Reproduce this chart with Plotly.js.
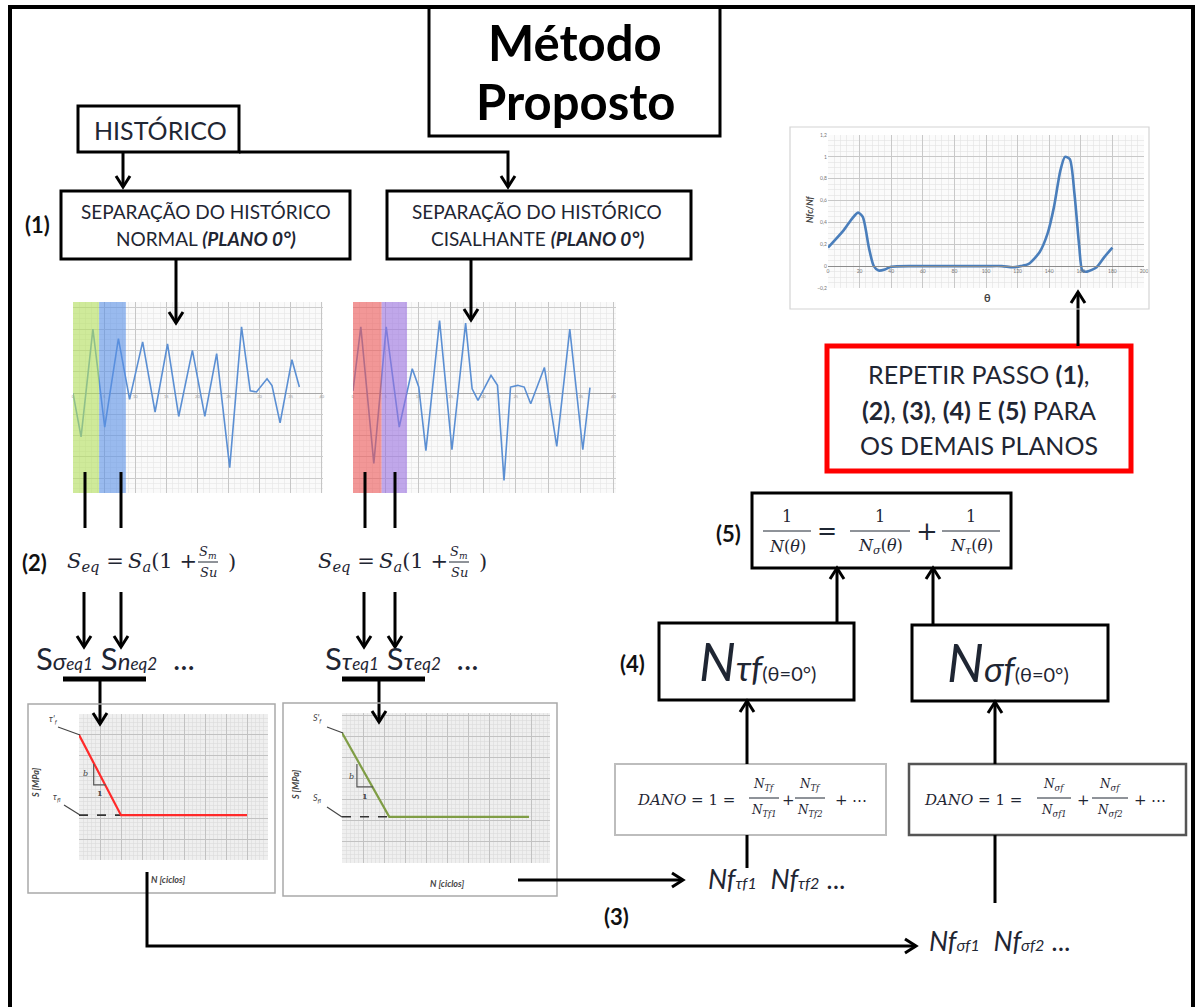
<!DOCTYPE html>
<html>
<head>
<meta charset="utf-8">
<script src="https://cdn.plot.ly/plotly-3.0.1.min.js"></script>
<style>
  html, body { margin: 0; padding: 0; background: #fff; }
  #chart { width: 1197px; height: 1007px; }
</style>
</head>
<body>
<div id="chart"></div>
<script>
// ---- Normal stress history, plane 0° ----
const normalTime   = [0, 1.3, 3.2, 5.1, 7.3, 9.1, 11.2, 13.2, 15.2, 17.0, 19.2, 21.2, 23.1, 25.2, 27.1, 28.5, 29.5, 31.2, 32.0, 33.3, 35.2, 36.4];
const normalStress = [0, -2.06, 3.0, -1.6, 2.55, -0.3, 2.4, -0.9, 2.3, -1.1, 2.0, -1.1, 1.85, -3.5, 3.1, 0.1, 0.05, 0.67, 0.35, -1.4, 1.56, 0.28];
const normalBands  = [[0, 4.2], [4.2, 8.5]];

// ---- Shear stress history, plane 0° ----
const shearTime   = [0, 1.2, 3.2, 5.1, 7.1, 9.1, 10.1, 11.2, 13.3, 15.2, 17.3, 18.3, 19.2, 21.2, 22.2, 23.2, 24.2, 25.3, 26.3, 27.3, 29.4, 31.3, 33.3, 35.3, 36.4];
const shearStress = [0.1, 3.1, -3.3, 3.1, -1.6, 1.14, 0.28, -2.7, 3.4, -2.66, 3.28, 0.2, -0.34, 0.83, 0.36, -4.1, 0.28, 0.36, 0.28, -0.5, 1.2, -2.5, 3.0, -2.66, 0.25];
const shearBands  = [[0, 4.4], [4.4, 8.3]];

// ---- Damage ratio versus plane angle ----
const planeAngle  = [0, 10, 15, 19, 22, 26, 29, 32, 36, 40, 60, 80, 100, 110, 117, 122, 127, 134, 139, 143, 147, 150, 153, 156, 159, 161, 164, 170, 175, 180];
const damageRatio = [0.17, 0.33, 0.43, 0.49, 0.45, 0.16, 0.0, -0.04, -0.03, -0.005, 0, 0, 0, 0, -0.01, 0, 0.02, 0.13, 0.3, 0.54, 0.87, 1.0, 0.98, 0.66, 0.18, -0.04, -0.05, -0.01, 0.085, 0.17];

// ---- S-N curve (shear) ----
const snTauCycles      = [0, 2, 8];
const snTauStress      = [6.0, 2.15, 2.15];
const snTauLimitCycles = [0, 2];
const snTauLimitStress = [2.15, 2.15];
const snTauSlopeCycles = [0.7, 0.7, 1.28];
const snTauSlopeStress = [4.6, 3.6, 3.6];

// ---- S-N curve (normal) ----
const snSigCycles      = [0, 2.25, 8.9];
const snSigStress      = [6.2, 2.2, 2.2];
const snSigLimitCycles = [0, 2.25];
const snSigLimitStress = [2.2, 2.2];
const snSigSlopeCycles = [0.71, 0.71, 1.48];
const snSigSlopeStress = [4.71, 3.62, 3.62];

const W = 1197, H = 1007;
const INK = '#1f2633';
const SANS = 'Lato, "Open Sans", sans-serif';
const SERIF = '"DejaVu Serif", "Liberation Serif", serif';

// pixel box -> paper domain
const dx = (a, b) => [a / W, b / W];
const dy = (top, bot) => [1 - bot / H, 1 - top / H];

const shapes = [];
const ann = [];

function L(x0, y0, x1, y1, w = 3, c = '#000', dash = 'solid') {
  shapes.push({ type: 'line', xref: 'x', yref: 'y', x0, y0, x1, y1, line: { color: c, width: w, dash } });
}
function P(d, w = 3, c = '#000') {
  shapes.push({ type: 'path', xref: 'x', yref: 'y', path: d, line: { color: c, width: w } });
}
function R(x0, y0, x1, y1, w = 3, c = '#000') {
  shapes.push({ type: 'rect', xref: 'x', yref: 'y', x0, y0, x1, y1, fillcolor: 'rgba(0,0,0,0)', line: { color: c, width: w } });
}
function head(x, y, dir) {
  const a = 11, b = 7;
  let d;
  if (dir === 'down')  d = `M ${x - b},${y - a} L ${x},${y} L ${x + b},${y - a}`;
  if (dir === 'up')    d = `M ${x - b},${y + a} L ${x},${y} L ${x + b},${y + a}`;
  if (dir === 'right') d = `M ${x - a},${y - b} L ${x},${y} L ${x - a},${y + b}`;
  P(d, 3);
}
function arrow(x0, y0, x1, y1) {
  L(x0, y0, x1, y1);
  head(x1, y1, x1 > x0 ? 'right' : (y1 > y0 ? 'down' : 'up'));
}
function T(x, y, text, size, opt = {}) {
  ann.push(Object.assign({
    x, y, xref: 'x', yref: 'y', text, showarrow: false,
    xanchor: 'center', yanchor: 'middle',
    font: { family: opt.family || SANS, size, color: opt.color || INK }
  }, opt.extra || {}));
}
function frac(xc, yBar, num, den, size, half, gap) {
  T(xc, yBar - gap, num, size, { family: SERIF });
  T(xc, yBar + gap, den, size, { family: SERIF });
  L(xc - half, yBar, xc + half, yBar, 1, INK);
}

// cycle-band highlights in the stress histories
const bandColors1 = ['#b2e05a', '#5990e6'];
const bandColors2 = ['#ec5555', '#9a6fe0'];
normalBands.forEach((b, i) => shapes.push({ type: 'rect', xref: 'x2', yref: 'y2 domain', x0: b[0], x1: b[1], y0: 0, y1: 1, fillcolor: bandColors1[i], opacity: 0.6, line: { width: 0 }, layer: 'above' }));
shearBands.forEach((b, i) => shapes.push({ type: 'rect', xref: 'x3', yref: 'y3 domain', x0: b[0], x1: b[1], y0: 0, y1: 1, fillcolor: bandColors2[i], opacity: 0.6, line: { width: 0 }, layer: 'above' }));

// plot-area backgrounds of the small charts
[['x2', 'y2', '#fafafa'], ['x3', 'y3', '#fafafa'], ['x4', 'y4', '#fbfbfb'], ['x5', 'y5', '#efefef'], ['x6', 'y6', '#efefef']].forEach(([xa, ya, c]) =>
  shapes.push({ type: 'rect', xref: xa + ' domain', yref: ya + ' domain', x0: 0, x1: 1, y0: 0, y1: 1, fillcolor: c, line: { width: 0 }, layer: 'below' }));

// ---- frame ----
L(10, 5, 10, 1007, 4);
L(8, 7, 1195, 7, 4);
L(1193, 5, 1193, 1007, 4);

// ---- title ----
R(429, 7, 720, 136, 3);
T(575, 42, '<b>Método</b>', 49, { color: '#000' });
T(575, 101, '<b>Proposto</b>', 49, { color: '#000' });

// ---- history split ----
R(78, 106, 239, 152, 3);
T(160, 130, 'HISTÓRICO', 25);
arrow(123, 152, 123, 187);
P('M 239,152 L 508,152 L 508,187', 3);
head(508, 187, 'down');

R(61, 191, 350, 259, 3);
T(206, 211, 'SEPARAÇÃO DO HISTÓRICO', 19);
T(206, 238, 'NORMAL <b><i>(PLANO 0°)</i></b>', 19);
R(387, 191, 691, 259, 3);
T(537, 211, 'SEPARAÇÃO DO HISTÓRICO', 19);
T(537, 238, 'CISALHANTE <b><i>(PLANO 0°)</i></b>', 19);
T(37, 224, '<b>(1)</b>', 22, { color: '#111' });

arrow(176, 259, 176, 323);
arrow(471, 259, 471, 320);

// band markers below the histories
L(85, 472, 85, 528); L(121, 472, 121, 528);
L(365, 472, 365, 528); L(395, 472, 395, 528);

// ---- step (2): equivalent stress ----
T(34, 562, '<b>(2)</b>', 22, { color: '#111' });
function seqFormula(x0) {
  T(x0, 562, '<i>S</i><sub><i>eq</i></sub> =', 21, { family: SERIF, extra: { xanchor: 'left' } });
  T(x0 + 61, 562, '<i>S</i><sub><i>a</i></sub>(1 +', 21, { family: SERIF, extra: { xanchor: 'left' } });
  frac(x0 + 143, 562, '<i>S</i><sub><i>m</i></sub>', '<i>Su</i>', 13, 10, 10);
  T(x0 + 167, 562, ')', 21, { family: SERIF });
}
seqFormula(65);
seqFormula(316);

arrow(84, 592, 84, 647); arrow(121, 592, 121, 647);
arrow(364, 592, 364, 647); arrow(395, 592, 395, 647);

const seqText = (g, h) =>
  `S<span style="font-size:24px"><i>${g}</i></span><span style="font-size:17px"><i>eq1</i></span> ` +
  `S<span style="font-size:24px"><i>${h}</i></span><span style="font-size:17px"><i>eq2</i></span>  ...`;
T(34, 658, seqText('σ', 'n'), 31, { extra: { xanchor: 'left' } });
T(323, 658, seqText('τ', 'τ'), 31, { extra: { xanchor: 'left' } });

L(63, 679, 146, 679, 5); L(342, 679, 425, 679, 5);
arrow(100, 679, 100, 724);
arrow(379, 679, 379, 722);

// ---- S-N charts ----
R(28, 704, 275, 893, 1.5, '#a9a9a9');
R(283, 703, 557, 896, 1.5, '#a9a9a9');
T(53, 719, "<i>τ'<sub>f</sub></i>", 9, { color: '#444' });
L(58, 727, 80, 735, 1.2, '#444');
T(57, 797, '<i>τ<sub>fl</sub></i>', 9, { color: '#444' });
L(64, 805, 80, 815, 1.2, '#444');
T(317, 718, "<i>S'<sub>f</sub></i>", 9, { color: '#444' });
L(327, 727, 343, 733, 1.2, '#444');
T(317, 798, '<i>S<sub>fl</sub></i>', 9, { color: '#444' });
L(327, 807, 342, 817, 1.2, '#444');
T(35, 783, '<b><i>S [MPa]</i></b>', 9, { color: '#444', extra: { textangle: -90 } });
T(295, 785, '<b><i>S [MPa]</i></b>', 9, { color: '#444', extra: { textangle: -90 } });
T(168, 879, '<b><i>N [ciclos]</i></b>', 9, { color: '#444' });
T(447, 883, '<b><i>N [ciclos]</i></b>', 9, { color: '#444' });
ann.push({ x: 0.29, y: 4.16, xref: 'x5', yref: 'y5', text: '<i>b</i>', showarrow: false, font: { family: SERIF, size: 8, color: '#444' } });
ann.push({ x: 1.0, y: 3.2, xref: 'x5', yref: 'y5', text: '<b>1</b>', showarrow: false, font: { family: SERIF, size: 8, color: '#444' } });
ann.push({ x: 0.43, y: 4.14, xref: 'x6', yref: 'y6', text: '<i>b</i>', showarrow: false, font: { family: SERIF, size: 8, color: '#444' } });
ann.push({ x: 1.1, y: 3.19, xref: 'x6', yref: 'y6', text: '<b>1</b>', showarrow: false, font: { family: SERIF, size: 8, color: '#444' } });

// ---- step (3): cycles to failure ----
P('M 147,872 L 147,946 L 916,946', 3);
head(916, 946, 'right');
arrow(518, 880, 683, 880);
T(616, 916, '<b>(3)</b>', 22, { color: '#111' });
const nfText = g =>
  `<i>Nf</i><span style="font-size:16px"><i>${g}f1</i></span>  <i>Nf</i><span style="font-size:16px"><i>${g}f2</i></span> ...`;
T(706, 878, nfText('τ'), 27, { extra: { xanchor: 'left' } });
T(927, 940, nfText('σ'), 27, { extra: { xanchor: 'left' } });

// ---- damage sums ----
R(615, 764, 886, 835, 2, '#bdbdbd');
R(909, 764, 1186, 835, 2.5, '#555555');
L(747, 835, 747, 868);
L(995, 835, 995, 903);
T(686, 800, '<i>DANO</i> = 1 =', 15, { family: SERIF });
frac(764, 798, '<i>N</i><sub><i>Tf</i></sub>', '<i>N</i><sub><i>Tf1</i></sub>', 12, 15, 13);
T(788, 800, '+', 15, { family: SERIF });
frac(810, 798, '<i>N</i><sub><i>Tf</i></sub>', '<i>N</i><sub><i>Tf2</i></sub>', 12, 15, 13);
T(851, 800, '+ ⋯', 15, { family: SERIF });
T(973, 800, '<i>DANO</i> = 1 =', 15, { family: SERIF });
frac(1054, 798, '<i>N</i><sub><i>σf</i></sub>', '<i>N</i><sub><i>σf1</i></sub>', 12, 17, 13);
T(1083, 800, '+', 15, { family: SERIF });
frac(1110, 798, '<i>N</i><sub><i>σf</i></sub>', '<i>N</i><sub><i>σf2</i></sub>', 12, 18, 13);
T(1150, 800, '+ ⋯', 15, { family: SERIF });

// ---- step (4) ----
arrow(747, 764, 747, 701);
arrow(995, 764, 995, 702);
R(659, 623, 854, 700, 3);
R(912, 625, 1108, 701, 3);
T(632, 663, '<b>(4)</b>', 22, { color: '#111' });
const nText = g => `<i>N</i><span style="font-size:35px"><i>${g}f</i></span><span style="font-size:20px">(θ=0°)</span>`;
T(757, 661, nText('τ'), 52);
T(1008, 662, nText('σ'), 52);

// ---- step (5) ----
arrow(837, 623, 837, 568);
arrow(933, 625, 933, 568);
R(752, 493, 1011, 568, 3);
T(728, 533, '<b>(5)</b>', 22, { color: '#111' });
frac(787, 531, '1', '<i>N</i>(<i>θ</i>)', 16, 24, 15);
T(827, 531, '=', 24, { family: SERIF });
frac(880, 531, '1', '<i>N</i><sub><i>σ</i></sub>(<i>θ</i>)', 16, 30, 15);
T(927, 531, '+', 26, { family: SERIF });
frac(971, 531, '1', '<i>N</i><sub><i>τ</i></sub>(<i>θ</i>)', 16, 29, 15);

// ---- repeat for the other planes ----
R(827, 346, 1131, 471, 5, '#ff0000');
T(979, 374, 'REPETIR PASSO <b>(1)</b>,', 25);
T(979, 410, '<b>(2)</b>, <b>(3)</b>, <b>(4)</b> E <b>(5)</b> PARA', 25);
T(979, 445, 'OS DEMAIS PLANOS', 25);
arrow(1078, 346, 1078, 292);

// ---- damage-ratio chart frame and titles ----
R(790, 127, 1149, 309, 1.2, '#d4d4d4');
T(809, 210, '<b><i>Nfc/Nf</i></b>', 9, { color: '#444', extra: { textangle: -90 } });
T(987, 297, '<b>θ</b>', 11, { color: '#444' });

// ---- small chart domains ----
const sig1X = dx(73, 323), sig1Y = dy(302, 493);
const sig2X = dx(353, 616), sig2Y = dy(302, 493);
const thX = dx(828, 1144), thY = dy(135, 288);
const sn1X = dx(79, 268), sn1Y = dy(714, 860);
const sn2X = dx(342, 550), sn2Y = dy(713, 863);

const sigRange = [-4.69, 4.27];
const zeroPos = (yd, r) => yd[0] + (0 - r[0]) / (r[1] - r[0]) * (yd[1] - yd[0]);

function sigXAxis(domain, yd, maxT) {
  return {
    domain, range: [0, maxT], anchor: 'free', position: zeroPos(yd, sigRange),
    dtick: 5, tick0: 0, showgrid: true, gridcolor: '#c6c6c6', gridwidth: 1,
    minor: { dtick: 1, showgrid: true, gridcolor: '#e4e4e4', gridwidth: 0.6 },
    zeroline: false, showline: false, ticks: '',
    tickfont: { size: 4, color: '#999' }, fixedrange: true
  };
}
function sigYAxis(domain, anchor) {
  return {
    domain, range: sigRange, anchor, dtick: 1, tick0: 0, showgrid: true, gridcolor: '#cccccc', gridwidth: 1,
    minor: { dtick: 0.25, showgrid: true, gridcolor: '#e6e6e6', gridwidth: 0.6 },
    zeroline: true, zerolinecolor: '#a8a8a8', zerolinewidth: 1,
    showticklabels: false, ticks: '', fixedrange: true
  };
}
function snAxis(domain, range, anchor) {
  return {
    domain, range, anchor, dtick: 1, tick0: 0, showgrid: true, gridcolor: '#c2c2c2', gridwidth: 1,
    minor: { dtick: 0.2, showgrid: true, gridcolor: '#dadada', gridwidth: 0.6 },
    zeroline: false, showline: false, showticklabels: false, ticks: '', fixedrange: true
  };
}

const thRange = [-0.2, 1.2];

const data = [
  { x: normalTime, y: normalStress, xaxis: 'x2', yaxis: 'y2', mode: 'lines', line: { color: '#5b8fd3', width: 1.6 } },
  { x: shearTime, y: shearStress, xaxis: 'x3', yaxis: 'y3', mode: 'lines', line: { color: '#5b8fd3', width: 1.6 } },
  { x: planeAngle, y: damageRatio, xaxis: 'x4', yaxis: 'y4', mode: 'lines', line: { color: '#4a7ebb', width: 2.6, shape: 'spline', smoothing: 0.7 } },
  { x: snTauLimitCycles, y: snTauLimitStress, xaxis: 'x5', yaxis: 'y5', mode: 'lines', line: { color: '#333', width: 1.6, dash: 'dash' } },
  { x: snTauCycles, y: snTauStress, xaxis: 'x5', yaxis: 'y5', mode: 'lines', line: { color: '#ff2a2a', width: 2.2 } },
  { x: snTauSlopeCycles, y: snTauSlopeStress, xaxis: 'x5', yaxis: 'y5', mode: 'lines', line: { color: '#555', width: 1.2 } },
  { x: snSigLimitCycles, y: snSigLimitStress, xaxis: 'x6', yaxis: 'y6', mode: 'lines', line: { color: '#333', width: 1.6, dash: 'dash' } },
  { x: snSigCycles, y: snSigStress, xaxis: 'x6', yaxis: 'y6', mode: 'lines', line: { color: '#7f9d45', width: 2.2 } },
  { x: snSigSlopeCycles, y: snSigSlopeStress, xaxis: 'x6', yaxis: 'y6', mode: 'lines', line: { color: '#555', width: 1.2 } }
];

const layout = {
  width: W, height: H,
  margin: { l: 0, r: 0, t: 0, b: 0, pad: 0 },
  paper_bgcolor: '#ffffff', plot_bgcolor: 'rgba(0,0,0,0)',
  showlegend: false, hovermode: false,
  separators: ', ',
  font: { family: SANS, color: INK },
  xaxis: { domain: [0, 1], range: [0, W], visible: false, fixedrange: true },
  yaxis: { domain: [0, 1], range: [H, 0], visible: false, fixedrange: true },
  xaxis2: sigXAxis(sig1X, sig1Y, 40.2),
  yaxis2: sigYAxis(sig1Y, 'x2'),
  xaxis3: sigXAxis(sig2X, sig2Y, 40.4),
  yaxis3: sigYAxis(sig2Y, 'x3'),
  xaxis4: {
    domain: thX, range: [0, 200], anchor: 'free', position: zeroPos(thY, thRange),
    dtick: 20, tick0: 0, showgrid: true, gridcolor: '#c8c8c8', gridwidth: 1,
    minor: { dtick: 4, showgrid: true, gridcolor: '#e2e2e2', gridwidth: 0.6 },
    showline: true, linecolor: '#8c8c8c', linewidth: 1, zeroline: false, ticks: '',
    tickfont: { size: 5, color: '#777' }, fixedrange: true
  },
  yaxis4: {
    domain: thY, range: thRange, anchor: 'x4', dtick: 0.2, tick0: 0,
    showgrid: true, gridcolor: '#c8c8c8', gridwidth: 1,
    minor: { dtick: 0.05, showgrid: true, gridcolor: '#e2e2e2', gridwidth: 0.6 },
    zeroline: false, ticks: '', tickfont: { size: 5, color: '#777' }, fixedrange: true
  },
  xaxis5: snAxis(sn1X, [0, 9], 'y5'),
  yaxis5: snAxis(sn1Y, [0, 7], 'x5'),
  xaxis6: snAxis(sn2X, [0, 9.9], 'y6'),
  yaxis6: snAxis(sn2Y, [0, 7.14], 'x6'),
  shapes,
  annotations: ann
};

Plotly.newPlot('chart', data, layout, { staticPlot: true, displayModeBar: false });
</script>
</body>
</html>
